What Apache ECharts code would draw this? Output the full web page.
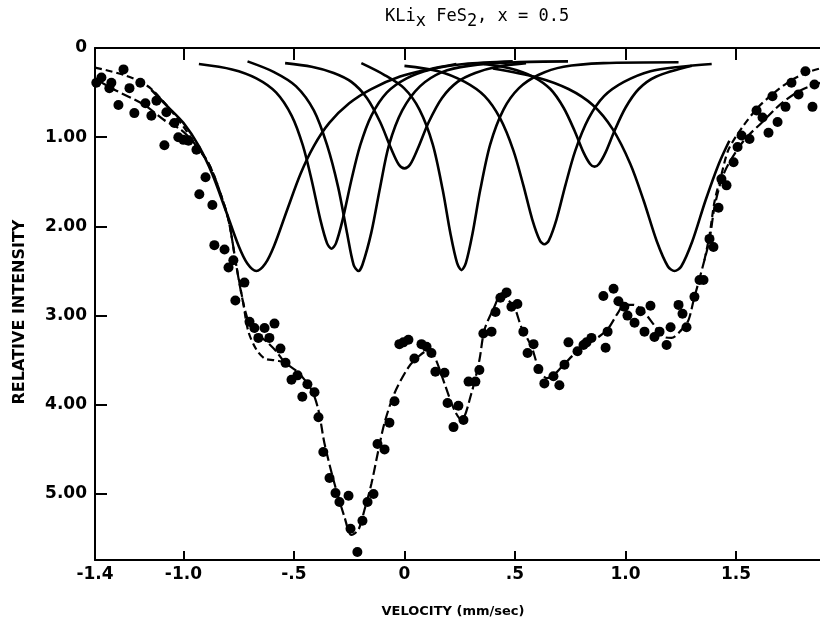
<!DOCTYPE html>
<html><head><meta charset="utf-8">
<script src="https://cdn.jsdelivr.net/npm/echarts@6/dist/echarts.min.js"></script>
<style>html,body{margin:0;padding:0;background:#fff}#c{width:820px;height:622px}</style>
</head><body><div id="c"></div>
<script>
// ---- tick labels ----
const xTickValues = [-1.4, -1.0, -0.5, 0, 0.5, 1.0, 1.5];
const xTickLabels = ['-1.4', '-1.0', '-.5', '0', '.5', '1.0', '1.5'];
const xTickMarks = [-1.0, -0.5, 0, 0.5, 1.0, 1.5];
const yTickValues = [0, 1, 2, 3, 4, 5];
const yTickLabels = ['0', '1.00', '2.00', '3.00', '4.00', '5.00'];
const yTickMarks = [1, 2, 3, 4, 5];

// ---- measured points [velocity, relative intensity] ----
const measured = [
[-1.394,0.39],[-1.371,0.33],[-1.335,0.45],[-1.326,0.39],[-1.294,0.64],[-1.271,0.24],[-1.244,0.45],[-1.222,0.73],
[-1.195,0.39],[-1.172,0.62],[-1.145,0.76],[-1.122,0.59],[-1.086,1.09],[-1.077,0.72],[-1.041,0.84],[-1.023,1.00],
[-1.0,1.03],[-0.977,1.04],[-0.941,1.14],[-0.928,1.64],[-0.90,1.45],[-0.869,1.76],[-0.86,2.21],[-0.814,2.26],
[-0.796,2.46],[-0.774,2.38],[-0.765,2.83],[-0.724,2.63],[-0.701,3.07],[-0.679,3.14],[-0.661,3.25],[-0.633,3.14],
[-0.611,3.25],[-0.588,3.09],[-0.561,3.37],[-0.538,3.53],[-0.511,3.72],[-0.484,3.67],[-0.462,3.91],[-0.439,3.77],
[-0.407,3.86],[-0.389,4.14],[-0.367,4.53],[-0.339,4.82],[-0.312,4.99],[-0.294,5.09],[-0.253,5.02],[-0.244,5.39],
[-0.213,5.65],[-0.19,5.30],[-0.167,5.09],[-0.14,5.0],[-0.122,4.44],[-0.09,4.50],[-0.068,4.20],[-0.045,3.96],
[-0.023,3.32],[-0.005,3.30],[0.018,3.27],[0.045,3.48],[0.077,3.32],[0.10,3.35],[0.122,3.42],[0.14,3.63],
[0.181,3.64],[0.195,3.98],[0.222,4.25],[0.244,4.01],[0.267,4.17],[0.29,3.74],[0.321,3.74],[0.339,3.61],
[0.357,3.20],[0.394,3.18],[0.412,2.96],[0.434,2.80],[0.462,2.74],[0.484,2.90],[0.511,2.87],[0.538,3.18],
[0.557,3.42],[0.584,3.32],[0.606,3.60],[0.633,3.76],[0.674,3.68],[0.701,3.78],[0.724,3.55],[0.742,3.30],
[0.783,3.40],[0.81,3.33],[0.824,3.30],[0.846,3.25],[0.90,2.78],[0.91,3.36],[0.919,3.18],[0.946,2.70],
[0.968,2.84],[0.995,2.90],[1.009,3.00],[1.041,3.08],[1.068,2.95],[1.086,3.18],[1.113,2.89],[1.131,3.24],
[1.154,3.18],[1.186,3.33],[1.204,3.13],[1.24,2.88],[1.258,2.98],[1.276,3.13],[1.312,2.79],[1.335,2.60],
[1.353,2.60],[1.38,2.14],[1.398,2.23],[1.421,1.79],[1.434,1.47],[1.457,1.54],[1.489,1.28],[1.507,1.11],
[1.525,0.98],[1.561,1.02],[1.593,0.70],[1.62,0.78],[1.647,0.95],[1.665,0.54],[1.688,0.83],[1.724,0.66],
[1.751,0.39],[1.783,0.52],[1.814,0.26],[1.846,0.66],[1.855,0.41]
];

// ---- fitted envelope (long dashes) ----
const fitMain = [
[-1.39,0.36],[-1.31,0.47],[-1.176,0.64],[-1.086,0.81],[-1.009,0.92],[-0.95,1.07],[-0.887,1.29],[-0.842,1.56],
[-0.796,1.93],[-0.76,2.45],[-0.73,2.85],[-0.70,3.1],[-0.66,3.22],[-0.62,3.3],[-0.58,3.4],[-0.543,3.52],
[-0.48,3.64],[-0.421,3.83],[-0.389,4.06],[-0.362,4.43],[-0.317,4.88],[-0.271,5.26],[-0.24,5.46],[-0.208,5.40],
[-0.181,5.18],[-0.149,4.88],[-0.118,4.51],[-0.09,4.2],[-0.045,3.87],[0.018,3.58],[0.063,3.46],[0.109,3.39],
[0.136,3.46],[0.181,3.76],[0.226,4.06],[0.258,4.17],[0.303,3.87],[0.339,3.50],[0.362,3.16],[0.407,2.90],
[0.439,2.75],[0.471,2.83],[0.498,2.91],[0.529,3.13],[0.575,3.35],[0.606,3.58],[0.643,3.70],[0.665,3.69],
[0.71,3.58],[0.756,3.46],[0.814,3.33],[0.878,3.24],[0.923,3.14],[0.968,2.96],[0.995,2.88],[1.036,2.88],
[1.086,2.97],[1.131,3.11],[1.176,3.24],[1.208,3.25],[1.253,3.16],[1.285,3.05],[1.308,2.83],[1.33,2.63],
[1.357,2.38],[1.38,2.15],[1.403,1.78],[1.434,1.48],[1.466,1.30],[1.538,1.03],[1.615,0.84],[1.706,0.62],
[1.796,0.47],[1.88,0.39]
];
// ---- sum of components (short dashes), where it separates from the envelope ----
const fitSumLeft = [
[-1.40,0.22],[-1.33,0.26],[-1.26,0.31],[-1.2,0.37],[-1.145,0.46],[-1.07,0.66],[-1.0,0.88],[-0.95,1.07],
[-0.887,1.29],[-0.842,1.56],[-0.796,1.93],[-0.76,2.45],[-0.73,2.85],[-0.706,3.18],[-0.67,3.38],[-0.633,3.48],
[-0.59,3.5],[-0.543,3.52]
];
const fitSumRight = [
[1.357,2.38],[1.38,2.1],[1.403,1.72],[1.434,1.42],[1.466,1.14],[1.525,0.90],[1.602,0.66],[1.674,0.50],
[1.751,0.36],[1.828,0.27],[1.88,0.23]
];

// ---- component absorption lines (solid) ----
const compA = [[-1.145,0.47],[-1.07,0.66],[-1.0,0.84],[-0.93,1.10],[-0.87,1.41],[-0.81,1.81],[-0.75,2.22],[-0.71,2.42],[-0.67,2.50],[-0.63,2.42],[-0.59,2.22],[-0.53,1.81],[-0.47,1.41],[-0.41,1.10],[-0.34,0.84],[-0.25,0.62],[-0.15,0.46],[-0.02,0.32],[0.11,0.24],[0.235,0.18]];
const compB = [[-0.93,0.18],[-0.78,0.24],[-0.67,0.34],[-0.58,0.50],[-0.51,0.76],[-0.46,1.09],[-0.42,1.48],[-0.38,1.93],[-0.35,2.19],[-0.33,2.25],[-0.31,2.19],[-0.28,1.93],[-0.24,1.48],[-0.2,1.09],[-0.15,0.76],[-0.08,0.50],[0.01,0.34],[0.12,0.24],[0.27,0.18],[0.49,0.15]];
const compC = [[-0.71,0.15],[-0.59,0.27],[-0.49,0.43],[-0.41,0.70],[-0.35,1.09],[-0.30,1.56],[-0.26,2.07],[-0.23,2.43],[-0.208,2.50],[-0.19,2.43],[-0.15,2.07],[-0.11,1.56],[-0.07,1.09],[-0.01,0.70],[0.07,0.43],[0.17,0.27],[0.29,0.20],[0.50,0.16],[0.74,0.15]];
const compG = [[-0.54,0.17],[-0.42,0.21],[-0.32,0.28],[-0.24,0.38],[-0.17,0.56],[-0.11,0.83],[-0.06,1.13],[-0.025,1.31],[0,1.35],[0.025,1.31],[0.06,1.13],[0.11,0.83],[0.17,0.56],[0.24,0.38],[0.32,0.28],[0.42,0.21],[0.55,0.17]];
const compD = [[-0.195,0.17],[-0.092,0.30],[-0.002,0.45],[0.068,0.69],[0.128,1.08],[0.173,1.59],[0.208,2.08],[0.238,2.41],[0.258,2.49],[0.278,2.41],[0.308,2.08],[0.343,1.59],[0.388,1.08],[0.448,0.69],[0.518,0.45],[0.608,0.30],[0.72,0.21],[0.9,0.17],[1.24,0.16]];
const compE = [[0.0,0.20],[0.153,0.26],[0.273,0.38],[0.363,0.54],[0.433,0.79],[0.493,1.15],[0.538,1.54],[0.578,1.92],[0.613,2.16],[0.633,2.2],[0.653,2.16],[0.688,1.92],[0.728,1.54],[0.773,1.15],[0.833,0.79],[0.903,0.54],[0.993,0.38],[1.113,0.26],[1.25,0.21],[1.39,0.18]];
const compH = [[0.36,0.18],[0.48,0.23],[0.58,0.32],[0.66,0.46],[0.72,0.67],[0.77,0.93],[0.81,1.17],[0.84,1.30],[0.86,1.33],[0.88,1.30],[0.91,1.17],[0.95,0.93],[1.0,0.67],[1.06,0.46],[1.14,0.32],[1.3,0.2]];
const compF = [[0.40,0.23],[0.60,0.33],[0.742,0.46],[0.852,0.64],[0.942,0.91],[1.022,1.30],[1.082,1.71],[1.142,2.17],[1.192,2.45],[1.222,2.5],[1.252,2.45],[1.302,2.17],[1.362,1.71],[1.422,1.30],[1.47,1.04]];

const components = [compA, compB, compC, compG, compD, compE, compH, compF];

const FONT = 'DejaVu Sans';
const chart = echarts.init(document.getElementById('c'), null, {renderer: 'canvas'});

function lab(values, labels) {
  return function (v) {
    const i = values.findIndex(t => Math.abs(t - v) < 1e-6);
    return i >= 0 ? labels[i] : '';
  };
}

const axisLineStyle = {color: '#000', width: 2};
const series = [];
components.forEach(c => series.push({
  type: 'line', data: c, smooth: 0.3, symbol: 'none', silent: true,
  lineStyle: {color: '#000', width: 2.6}, z: 3
}));
series.push({type: 'line', data: fitMain, smooth: 0.3, symbol: 'none',
  lineStyle: {color: '#000', width: 2.2, type: [10, 4]}, z: 4});
series.push({type: 'line', data: fitSumLeft, smooth: 0.3, symbol: 'none',
  lineStyle: {color: '#000', width: 2.2, type: [7, 4]}, z: 4});
series.push({type: 'line', data: fitSumRight, smooth: 0.3, symbol: 'none',
  lineStyle: {color: '#000', width: 2.2, type: [7, 4]}, z: 4});
series.push({type: 'scatter', data: measured, symbol: 'circle', symbolSize: 10,
  itemStyle: {color: '#000', opacity: 1}, z: 5});

chart.setOption({
  animation: false,
  backgroundColor: '#fff',
  title: {
    text: '{n|KLi}{s|x}{n| FeS}{s|2}{n|, x = 0.5}',
    left: 380, top: 3,
    textStyle: {
      fontWeight: 'normal',
      rich: {
        n: {fontFamily: 'DejaVu Sans Mono', fontSize: 17, fontWeight: 'normal', color: '#000', lineHeight: 19, verticalAlign: 'top'},
        s: {fontFamily: 'DejaVu Sans Mono', fontSize: 17, fontWeight: 'normal', color: '#000', lineHeight: 19, verticalAlign: 'top', padding: [5, 0, 0, 0]}
      }
    }
  },
  grid: {left: 95, right: 0, top: 48, bottom: 62, containLabel: false},
  xAxis: [{
    type: 'value', min: -1.4, max: 1.88, position: 'bottom',
    axisLine: {show: true, onZero: false, lineStyle: axisLineStyle},
    axisTick: {show: true, inside: true, length: 9, lineStyle: axisLineStyle, customValues: xTickMarks},
    axisLabel: {show: true, customValues: xTickValues, formatter: lab(xTickValues, xTickLabels),
      margin: 6, color: '#000', fontFamily: FONT, fontWeight: 'bold', fontSize: 17},
    splitLine: {show: false}
  }, {
    type: 'value', min: -1.4, max: 1.88, position: 'top',
    axisLine: {show: true, onZero: false, lineStyle: axisLineStyle},
    axisTick: {show: true, inside: true, length: 12, lineStyle: axisLineStyle, customValues: xTickMarks},
    axisLabel: {show: false},
    splitLine: {show: false}
  }],
  yAxis: {
    type: 'value', inverse: true, min: 0, max: 5.74,
    axisLine: {show: true, onZero: false, lineStyle: axisLineStyle},
    axisTick: {show: true, inside: true, length: 12, lineStyle: axisLineStyle, customValues: yTickMarks},
    axisLabel: {show: true, customValues: yTickValues, formatter: lab(yTickValues, yTickLabels),
      margin: 8, color: '#000', fontFamily: FONT, fontWeight: 'bold', fontSize: 17},
    splitLine: {show: false}
  },
  graphic: [
    {type: 'text', x: 20, y: 312, rotation: Math.PI / 2,
      style: {text: 'RELATIVE INTENSITY', fill: '#000', fontFamily: FONT, fontWeight: 'bold', fontSize: 16,
        align: 'center', verticalAlign: 'middle'}},
    {type: 'text', x: 453, y: 612,
      style: {text: 'VELOCITY (mm/sec)', fill: '#000', fontFamily: FONT, fontWeight: 'bold', fontSize: 13,
        align: 'center', verticalAlign: 'middle'}}
  ],
  series: series
});
</script>
</body></html>
